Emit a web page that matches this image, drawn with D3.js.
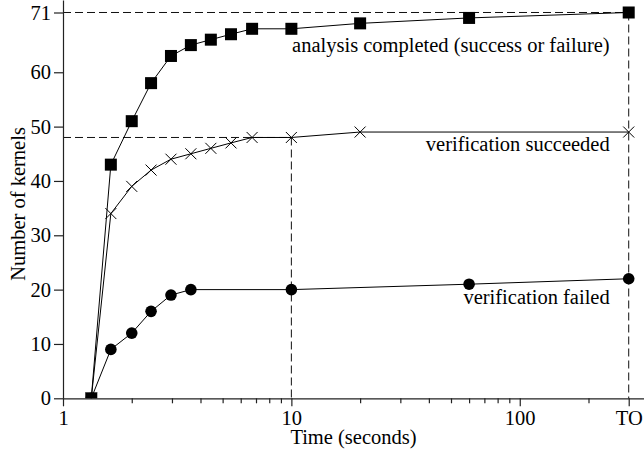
<!DOCTYPE html>
<html>
<head>
<meta charset="utf-8">
<script src="https://cdn.jsdelivr.net/npm/d3@7"></script>
<style>
  body { margin: 0; background: #fff; }
  svg { display: block; }
  text { font-family: "Liberation Serif", "Times New Roman", serif; fill: #000; }
  .axis path, .axis line { stroke: #222; stroke-width: 1.2; }
  .guide { stroke: #111; stroke-width: 1; stroke-dasharray: 8 4; fill: none; }
  .series { stroke: #000; stroke-width: 1; fill: none; }
</style>
</head>
<body>
<div id="chart"></div>
<script>
"use strict";

// times in seconds, TO = timeout (300 s)
let completedTimes = [1.33, 1.62, 2, 2.43, 2.97, 3.63, 4.44, 5.44, 6.73, 10, 20, 60, 300];
let completedCounts = [0, 43, 51, 58, 63, 65, 66, 67, 68, 68, 69, 70, 71];

let succeededTimes = [1.33, 1.62, 2, 2.43, 2.97, 3.63, 4.44, 5.44, 6.73, 10, 20, 300];
let succeededCounts = [0, 34, 39, 42, 44, 45, 46, 47, 48, 48, 49, 49];

let failedTimes = [1.33, 1.62, 2, 2.43, 2.97, 3.63, 10, 60, 300];
let failedCounts = [0, 9, 12, 16, 19, 20, 20, 21, 22];

let seriesLabels = ["analysis completed (success or failure)", "verification succeeded", "verification failed"];

let xMinorTicks = [2, 3, 4, 5, 6, 7, 8, 9, 20, 30, 40, 50, 60, 70, 80, 90, 200];
let xMajorTicks = [1, 10, 100, 300];
let xTickLabels = ["1", "10", "100", "TO"];
let yTicks = [0, 10, 20, 30, 40, 50, 60, 71];

// reference lines: [time, count]
let guidePoints = [[10, 48], [300, 71]];

let ChartView = function(div) {
  let self = {
    div: null,
    SVG: null,
    width: 644,
    height: 452,
    xScale: null,
    yScale: null
  };

  let margin = {
    top: 0,
    bottom: 53.7,
    left: 63,
    right: 0
  };

  let fontSize = "20.5px";

  init();

  function init() {
    self.div = d3.select(div);
    self.SVG = self.div.append("svg")
      .attr("width", self.width)
      .attr("height", self.height);

    self.xScale = d3.scaleLog()
      .domain([1, 350])
      .range([margin.left, self.width - margin.right]);

    self.yScale = d3.scaleLinear()
      .domain([0, 73.3])
      .range([self.height - margin.bottom, margin.top]);

    drawGuides();
    drawSeries();
    drawAxes();
    drawLabels();
  }

  function drawAxes() {
    let x = self.xScale, y = self.yScale;
    let y0 = y(0);

    let xMinor = d3.axisBottom(x)
      .tickValues(xMinorTicks)
      .tickSize(5)
      .tickSizeOuter(0)
      .tickFormat("");

    let xMajor = d3.axisBottom(x)
      .tickValues(xMajorTicks)
      .tickSize(8)
      .tickSizeOuter(0)
      .tickPadding(4)
      .tickFormat((d, i) => xTickLabels[i]);

    self.SVG.append("g")
      .attr("class", "axis")
      .attr("transform", "translate(0," + y0 + ")")
      .call(xMinor);

    let gx = self.SVG.append("g")
      .attr("class", "axis")
      .attr("transform", "translate(0," + y0 + ")")
      .call(xMajor);
    gx.select(".domain").remove();

    let yAxis = d3.axisLeft(y)
      .tickValues(yTicks)
      .tickSize(9)
      .tickSizeOuter(0)
      .tickPadding(3);

    self.SVG.append("g")
      .attr("class", "axis")
      .attr("transform", "translate(" + margin.left + ",0)")
      .call(yAxis);

    self.SVG.selectAll(".axis text")
      .style("font-family", "\"Liberation Serif\", serif")
      .style("font-size", fontSize)
      .attr("fill", "#000");

    self.SVG.append("text")
      .attr("x", (x.range()[0] + x.range()[1]) / 2)
      .attr("y", 444)
      .attr("text-anchor", "middle")
      .style("font-size", fontSize)
      .text("Time (seconds)");

    self.SVG.append("text")
      .attr("transform", "translate(25," + 204 + ") rotate(-90)")
      .attr("text-anchor", "middle")
      .style("font-size", fontSize)
      .text("Number of kernels");
  }

  function drawGuides() {
    let x = self.xScale, y = self.yScale;
    let g = self.SVG.append("g").attr("class", "guides");

    guidePoints.forEach(function(p) {
      g.append("line")
        .attr("class", "guide")
        .attr("x1", x(1)).attr("x2", x(p[0]))
        .attr("y1", y(p[1])).attr("y2", y(p[1]));
      g.append("line")
        .attr("class", "guide")
        .attr("x1", x(p[0])).attr("x2", x(p[0]))
        .attr("y1", y(p[1])).attr("y2", y(0));
    });
  }

  function drawSeries() {
    let x = self.xScale, y = self.yScale;

    self.SVG.append("clipPath")
      .attr("id", "plotClip")
      .append("rect")
      .attr("x", x.range()[0])
      .attr("y", 0)
      .attr("width", x.range()[1] - x.range()[0])
      .attr("height", y(0));

    let plot = self.SVG.append("g")
      .attr("clip-path", "url(#plotClip)");

    let line = d3.line()
      .x(d => x(d[0]))
      .y(d => y(d[1]));

    let failed = d3.zip(failedTimes, failedCounts);
    let succeeded = d3.zip(succeededTimes, succeededCounts);
    let completed = d3.zip(completedTimes, completedCounts);

    [failed, succeeded, completed].forEach(function(data) {
      plot.append("path")
        .attr("class", "series")
        .attr("d", line(data));
    });

    // circles: verification failed
    plot.selectAll(".failedPt")
      .data(failed)
      .enter().append("circle")
      .attr("class", "failedPt")
      .attr("cx", d => x(d[0]))
      .attr("cy", d => y(d[1]))
      .attr("r", 5.8)
      .attr("fill", "#000");

    // crosses: verification succeeded
    let cross = 5.5;
    plot.selectAll(".succPt")
      .data(succeeded)
      .enter().append("path")
      .attr("class", "succPt")
      .attr("d", d => {
        let cx = x(d[0]), cy = y(d[1]);
        return "M" + (cx - cross) + "," + (cy - cross) + "L" + (cx + cross) + "," + (cy + cross) +
          "M" + (cx - cross) + "," + (cy + cross) + "L" + (cx + cross) + "," + (cy - cross);
      })
      .attr("stroke", "#000")
      .attr("stroke-width", 1)
      .attr("fill", "none");

    // squares: analysis completed
    let side = 12;
    plot.selectAll(".compPt")
      .data(completed)
      .enter().append("rect")
      .attr("class", "compPt")
      .attr("x", d => x(d[0]) - side / 2)
      .attr("y", d => y(d[1]) - side / 2)
      .attr("width", side)
      .attr("height", side)
      .attr("fill", "#000");
  }

  function drawLabels() {
    let x = self.xScale, y = self.yScale;
    let right = x(300) - 19;
    let offsets = [
      [completedCounts[completedCounts.length - 1], 40],
      [succeededCounts[succeededCounts.length - 1], 19],
      [failedCounts[failedCounts.length - 1], 25]
    ];

    self.SVG.selectAll(".seriesLabel")
      .data(seriesLabels)
      .enter().append("text")
      .attr("class", "seriesLabel")
      .attr("x", right)
      .attr("y", (d, i) => y(offsets[i][0]) + offsets[i][1])
      .attr("text-anchor", "end")
      .style("font-size", fontSize)
      .text(d => d);
  }

  return {};
};

ChartView("#chart");
</script>
</body>
</html>
